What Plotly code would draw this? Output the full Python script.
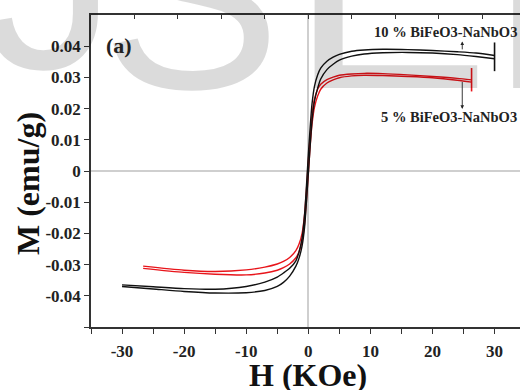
import plotly.graph_objects as go

# ---- data ----
h_black_down = [30, 27, 24, 20, 16, 12, 9, 7, 5, 4, 3, 2, 1.5, 1, 0.6, 0.3, 0, -0.3, -0.6, -1, -1.5, -2, -3, -4, -5, -7, -10, -15, -20, -25, -30]
m_black_down = [0.0370, 0.0378, 0.0382, 0.0386, 0.0389, 0.0390, 0.0388, 0.0384, 0.0374, 0.0365, 0.0352, 0.0330, 0.0308, 0.0272, 0.0215, 0.0140, 0.0050, -0.0050, -0.0140, -0.0215, -0.0260, -0.0288, -0.0312, -0.0327, -0.0340, -0.0356, -0.0370, -0.0379, -0.0377, -0.0371, -0.0365]
h_black_up = [-30, -25, -20, -15, -10, -7, -5, -4, -3, -2, -1.5, -1, -0.6, -0.3, 0, 0.3, 0.6, 1, 1.5, 2, 3, 4, 5, 7, 9, 12, 16, 20, 24, 27, 30]
m_black_up = [-0.0370, -0.0378, -0.0386, -0.0391, -0.0390, -0.0383, -0.0370, -0.0357, -0.0337, -0.0305, -0.0280, -0.0240, -0.0180, -0.0100, -0.0010, 0.0080, 0.0160, 0.0225, 0.0265, 0.0295, 0.0325, 0.0342, 0.0355, 0.0368, 0.0375, 0.0379, 0.0380, 0.0378, 0.0373, 0.0367, 0.0360]

h_red_down = [26.3, 24, 20, 16, 12, 9, 7, 5, 4, 3, 2, 1.5, 1, 0.6, 0.3, 0, -0.3, -0.6, -1, -1.5, -2, -3, -4, -5, -7, -10, -15, -20, -26.6]
m_red_down = [0.0292, 0.0297, 0.0303, 0.0308, 0.0312, 0.0313, 0.0311, 0.0307, 0.0301, 0.0293, 0.0278, 0.0262, 0.0230, 0.0180, 0.0110, 0.0030, -0.0060, -0.0140, -0.0200, -0.0235, -0.0255, -0.0277, -0.0290, -0.0298, -0.0308, -0.0317, -0.0322, -0.0318, -0.0305]
h_red_up = [-26.6, -20, -15, -10, -7, -5, -4, -3, -2, -1.5, -1, -0.6, -0.3, 0, 0.3, 0.6, 1, 1.5, 2, 3, 4, 5, 7, 9, 12, 16, 20, 24, 26.3]
m_red_up = [-0.0312, -0.0325, -0.0331, -0.0333, -0.0327, -0.0318, -0.0310, -0.0298, -0.0278, -0.0260, -0.0225, -0.0170, -0.0095, -0.0010, 0.0080, 0.0150, 0.0205, 0.0240, 0.0262, 0.0282, 0.0292, 0.0299, 0.0305, 0.0307, 0.0306, 0.0303, 0.0299, 0.0291, 0.0285]

# end bars of each loop
black_end_h = [30, 30]
black_end_m = [0.0320, 0.0412]
red_end_h = [26.3, 26.3]
red_end_m = [0.0255, 0.0330]

x_tick_vals = [-35, -30, -25, -20, -15, -10, -5, 0, 5, 10, 15, 20, 25, 30]
x_tick_text = ["", "-30", "", "-20", "", "-10", "", "0", "", "10", "", "20", "", "30"]
x_top_ticks = [-28, -21, -14, -7, 0, 7, 14, 21, 28]
y_tick_vals = [-0.05, -0.04, -0.03, -0.02, -0.01, 0, 0.01, 0.02, 0.03, 0.04]
y_tick_text = ["", "-0.04", "-0.03", "-0.02", "-0.01", "0", "0.01", "0.02", "0.03", "0.04"]

label_10 = "10 % BiFeO3-NaNbO3"
label_5 = "5 % BiFeO3-NaNbO3"

# faint background watermark letters
watermark_letters = ["J", "S", "E", "R"]

SERIF = "Liberation Serif, Times New Roman, serif"
BLACK = "#111111"
RED = "#e8141a"
AX = "#333333"

fig = go.Figure()

def branch(h, m, color):
    fig.add_trace(go.Scatter(x=h, y=m, mode="lines", line=dict(color=color, width=1.4, shape="spline", smoothing=0.7),
                             showlegend=False, hoverinfo="skip"))

branch(h_red_down, m_red_down, RED)
branch(h_red_up, m_red_up, RED)
branch(h_black_down, m_black_down, BLACK)
branch(h_black_up, m_black_up, BLACK)
fig.add_trace(go.Scatter(x=black_end_h, y=black_end_m, mode="lines", line=dict(color=BLACK, width=1.6), showlegend=False))
fig.add_trace(go.Scatter(x=red_end_h, y=red_end_m, mode="lines", line=dict(color=RED, width=1.6), showlegend=False))
# helper trace for top axis
fig.add_trace(go.Scatter(x=[0], y=[0], xaxis="x2", mode="markers", marker=dict(opacity=0), showlegend=False, hoverinfo="skip"))

tickfont = dict(family=SERIF, size=17, color="#222222", weight="bold")

fig.update_layout(
    width=520, height=390,
    margin=dict(l=91, r=0, t=15, b=63),
    paper_bgcolor="white", plot_bgcolor="white",
    xaxis=dict(range=[-35, 34.1], showline=True, linecolor=AX, linewidth=1.5, ticks="outside", ticklen=5,
               tickwidth=1.3, tickcolor=AX, tickvals=x_tick_vals, ticktext=x_tick_text, tickfont=tickfont,
               showgrid=False, zeroline=True, zerolinecolor="#cfcfcf", zerolinewidth=1.5, ticklabelstandoff=3),
    xaxis2=dict(range=[-35, 34.1], overlaying="x", side="top", anchor="y", showline=True, linecolor=AX, linewidth=1.5,
                ticks="inside", ticklen=4, tickwidth=1.3, tickcolor=AX, tickvals=x_top_ticks, showticklabels=False,
                showgrid=False, zeroline=False),
    yaxis=dict(range=[-0.05, 0.05], showline=True, linecolor=AX, linewidth=1.5, ticks="outside", ticklen=5,
               tickwidth=1.3, tickcolor=AX, tickvals=y_tick_vals, ticktext=y_tick_text, tickfont=tickfont,
               showgrid=False, zeroline=True, zerolinecolor="#cfcfcf", zerolinewidth=1.5),
)

def px_x(px):
    return (px - 91) / 429.0

def px_y(py):
    return (327 - py) / 312.0

ann = []
# watermark, one letter at a time: (centre x px, box bottom px, size)
wm_pos = [(50, 127, 270), (191, 147, 270), (390, 154, 300), (588, 147, 270)]
for letter, (cx, by, fs) in zip(watermark_letters, wm_pos):
    ann.append(dict(text=letter, xref="paper", yref="paper", x=px_x(cx), y=px_y(by), xanchor="center", yanchor="bottom",
                    showarrow=False, font=dict(family="Liberation Sans, Arial, sans-serif", size=fs, color="rgba(0,0,0,0.14)")))
ann.append(dict(text="(a)", xref="paper", yref="paper", x=px_x(119), y=px_y(46), xanchor="center", yanchor="middle",
                showarrow=False, font=dict(family=SERIF, size=22, color="#222222", weight="bold")))
ann.append(dict(text=label_10, xref="paper", yref="paper", x=px_x(519), y=px_y(32), xanchor="right", yanchor="middle",
                showarrow=False, font=dict(family=SERIF, size=14.5, color="#222222", weight="bold")))
ann.append(dict(text=label_5, xref="paper", yref="paper", x=px_x(519), y=px_y(117), xanchor="right", yanchor="middle",
                showarrow=False, font=dict(family=SERIF, size=14.5, color="#222222", weight="bold")))
ann.append(dict(text="", x=24.8, y=0.0415, ax=24.8, ay=0.0385, axref="x", ayref="y", showarrow=True,
                arrowhead=2, arrowsize=0.8, arrowwidth=0.9, arrowcolor="#222222"))
ann.append(dict(text="", x=24.8, y=0.0199, ax=24.8, ay=0.0290, axref="x", ayref="y", showarrow=True,
                arrowhead=2, arrowsize=0.8, arrowwidth=0.9, arrowcolor="#222222"))
ann.append(dict(text="M (emu/g)", xref="paper", yref="paper", x=px_x(28), y=px_y(184), xanchor="center", yanchor="middle",
                textangle=-90, showarrow=False, font=dict(family=SERIF, size=32, color="#111111", weight="bold")))
ann.append(dict(text="H (KOe)", xref="paper", yref="paper", x=px_x(308), y=px_y(375), xanchor="center", yanchor="middle",
                showarrow=False, font=dict(family=SERIF, size=32, color="#111111", weight="bold")))
fig.update_layout(annotations=ann)

fig.write_html("out.html")
